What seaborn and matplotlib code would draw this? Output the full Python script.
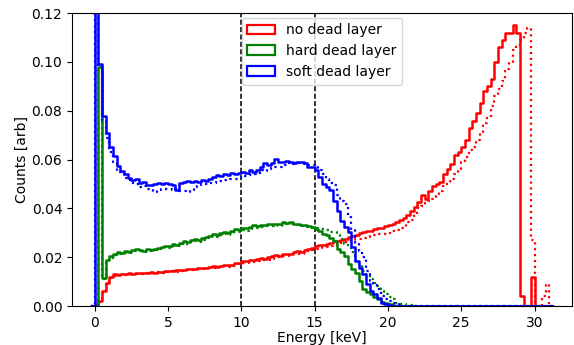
import numpy as np
import pandas as pd
import matplotlib
matplotlib.use("Agg")
import matplotlib.pyplot as plt
import seaborn as sns
from matplotlib.patches import Patch

# ---- data: histogram contents, 0.25 keV bins from 0 to 31 keV (one row = 1 keV) ----
bin_width = 0.25
energy_start = 0.0

no_dead_solid = [
    0.0005, 0.002, 0.006, 0.0095,   # 0
    0.012, 0.013, 0.0128, 0.0132,   # 1
    0.0130, 0.0134, 0.0132, 0.0136, # 2
    0.0134, 0.0137, 0.0135, 0.0139, # 3
    0.0137, 0.0141, 0.0139, 0.0142, # 4
    0.0144, 0.0142, 0.0146, 0.0148, # 5
    0.0146, 0.0150, 0.0152, 0.0150, # 6
    0.0155, 0.0157, 0.0155, 0.0160, # 7
    0.0162, 0.0160, 0.0165, 0.0167, # 8
    0.0166, 0.0170, 0.0175, 0.0178, # 9
    0.0185, 0.0183, 0.0190, 0.0188, # 10
    0.0192, 0.0196, 0.0194, 0.0200, # 11
    0.0203, 0.0208, 0.0206, 0.0212, # 12
    0.0215, 0.0213, 0.0220, 0.0224, # 13
    0.0222, 0.0230, 0.0235, 0.0238, # 14
    0.0245, 0.0248, 0.0252, 0.0255, # 15
    0.0258, 0.0265, 0.0268, 0.0272, # 16
    0.0275, 0.0282, 0.0288, 0.0292, # 17
    0.0298, 0.0302, 0.0308, 0.0306, # 18
    0.0315, 0.0320, 0.0318, 0.0326, # 19
    0.0332, 0.0338, 0.0346, 0.0352, # 20
    0.0362, 0.0372, 0.0390, 0.0405, # 21
    0.0426, 0.0453, 0.0440, 0.0470, # 22
    0.0490, 0.0500, 0.0510, 0.0540, # 23
    0.0560, 0.0580, 0.0620, 0.0630, # 24
    0.0650, 0.0680, 0.0730, 0.0760, # 25
    0.0790, 0.0830, 0.0880, 0.0900, # 26
    0.0930, 0.1000, 0.1060, 0.1090, # 27
    0.1120, 0.1120, 0.1150, 0.1120, # 28
    0.0040, 0.0, 0.0, 0.0120,       # 29
    0.0, 0.0, 0.0, 0.0,             # 30
]

no_dead_dotted = [
    0.0003, 0.0015, 0.0055, 0.009,  # 0
    0.0115, 0.0125, 0.0127, 0.0128, # 1
    0.0129, 0.0127, 0.0131, 0.0130, # 2
    0.0133, 0.0131, 0.0135, 0.0134, # 3
    0.0136, 0.0138, 0.0136, 0.0140, # 4
    0.0139, 0.0142, 0.0141, 0.0145, # 5
    0.0144, 0.0146, 0.0149, 0.0147, # 6
    0.0150, 0.0153, 0.0151, 0.0155, # 7
    0.0157, 0.0156, 0.0160, 0.0162, # 8
    0.0161, 0.0165, 0.0168, 0.0171, # 9
    0.0175, 0.0178, 0.0181, 0.0180, # 10
    0.0184, 0.0187, 0.0190, 0.0189, # 11
    0.0194, 0.0197, 0.0200, 0.0204, # 12
    0.0203, 0.0208, 0.0212, 0.0215, # 13
    0.0214, 0.0220, 0.0225, 0.0228, # 14
    0.0233, 0.0236, 0.0240, 0.0243, # 15
    0.0247, 0.0250, 0.0255, 0.0259, # 16
    0.0262, 0.0266, 0.0270, 0.0273, # 17
    0.0276, 0.0280, 0.0283, 0.0287, # 18
    0.0290, 0.0293, 0.0296, 0.0294, # 19
    0.0300, 0.0306, 0.0311, 0.0318, # 20
    0.0325, 0.0343, 0.0352, 0.0375, # 21
    0.040, 0.041, 0.042, 0.043,     # 22
    0.044, 0.045, 0.047, 0.049,     # 23
    0.051, 0.052, 0.054, 0.056,     # 24
    0.059, 0.061, 0.064, 0.065,     # 25
    0.068, 0.071, 0.075, 0.078,     # 26
    0.082, 0.086, 0.089, 0.092,     # 27
    0.097, 0.100, 0.105, 0.107,     # 28
    0.109, 0.112, 0.114, 0.027,     # 29
    0.0, 0.0, 0.004, 0.009,         # 30
]

hard_dead_solid = [
    0.0, 0.098, 0.0115, 0.0190,     # 0
    0.0206, 0.0215, 0.0220, 0.0218, # 1
    0.0225, 0.0223, 0.0229, 0.0233, # 2
    0.0231, 0.0227, 0.0232, 0.0230, # 3
    0.0233, 0.0238, 0.0242, 0.0247, # 4
    0.0245, 0.0254, 0.0250, 0.0258, # 5
    0.0268, 0.0262, 0.0272, 0.0275, # 6
    0.0271, 0.0278, 0.0282, 0.0286, # 7
    0.0295, 0.0290, 0.0298, 0.0302, # 8
    0.0299, 0.0307, 0.0316, 0.0312, # 9
    0.0320, 0.0318, 0.0323, 0.0330, # 10
    0.0326, 0.0333, 0.0330, 0.0336, # 11
    0.0334, 0.0338, 0.0336, 0.0343, # 12
    0.0341, 0.0343, 0.0338, 0.0336, # 13
    0.0333, 0.0330, 0.0326, 0.0323, # 14
    0.0316, 0.0309, 0.0295, 0.0289, # 15
    0.0280, 0.0268, 0.0234, 0.0220, # 16
    0.0206, 0.0172, 0.0150, 0.0137, # 17
    0.0103, 0.0069, 0.0058, 0.0048, # 18
    0.0035, 0.0027, 0.0018, 0.0014, # 19
    0.0007, 0.0004, 0.0002, 0.0,    # 20
    0.0, 0.0, 0.0, 0.0,             # 21
    0.0, 0.0, 0.0, 0.0,             # 22
    0.0, 0.0, 0.0, 0.0,             # 23
    0.0, 0.0, 0.0, 0.0,             # 24
    0.0, 0.0, 0.0, 0.0,             # 25
    0.0, 0.0, 0.0, 0.0,             # 26
    0.0, 0.0, 0.0, 0.0,             # 27
    0.0, 0.0, 0.0, 0.0,             # 28
    0.0, 0.0, 0.0, 0.0,             # 29
    0.0, 0.0, 0.0, 0.0,             # 30
]

hard_dead_dotted = [
    0.0, 0.097, 0.011, 0.018,       # 0
    0.0198, 0.0208, 0.0212, 0.0215, # 1
    0.0218, 0.0216, 0.0222, 0.0225, # 2
    0.0224, 0.0221, 0.0226, 0.0225, # 3
    0.0228, 0.0233, 0.0236, 0.0240, # 4
    0.0239, 0.0246, 0.0244, 0.0250, # 5
    0.0258, 0.0255, 0.0263, 0.0266, # 6
    0.0264, 0.0270, 0.0274, 0.0278, # 7
    0.0285, 0.0282, 0.0289, 0.0293, # 8
    0.0291, 0.0297, 0.0305, 0.0302, # 9
    0.0310, 0.0309, 0.0315, 0.0320, # 10
    0.0318, 0.0324, 0.0322, 0.0328, # 11
    0.0327, 0.0330, 0.0329, 0.0335, # 12
    0.0336, 0.0334, 0.0332, 0.0330, # 13
    0.0329, 0.0327, 0.0324, 0.0320, # 14
    0.0318, 0.0316, 0.0316, 0.0310, # 15
    0.0302, 0.0302, 0.0289, 0.0275, # 16
    0.0254, 0.0240, 0.0220, 0.0185, # 17
    0.0170, 0.0144, 0.0125, 0.0110, # 18
    0.0095, 0.0082, 0.0060, 0.0048, # 19
    0.0035, 0.0027, 0.0014, 0.0010, # 20
    0.0007, 0.0005, 0.0003, 0.0001, # 21
    0.0, 0.0, 0.0, 0.0,             # 22
    0.0, 0.0, 0.0, 0.0,             # 23
    0.0, 0.0, 0.0, 0.0,             # 24
    0.0, 0.0, 0.0, 0.0,             # 25
    0.0, 0.0, 0.0, 0.0,             # 26
    0.0, 0.0, 0.0, 0.0,             # 27
    0.0, 0.0, 0.0, 0.0,             # 28
    0.0, 0.0, 0.0, 0.0,             # 29
    0.0, 0.0, 0.0, 0.0,             # 30
]

soft_dead_solid = [
    0.35, 0.099, 0.078, 0.071,      # 0
    0.065, 0.0615, 0.0575, 0.0555,  # 1
    0.054, 0.0525, 0.0515, 0.052,   # 2
    0.0505, 0.0508, 0.0494, 0.0497, # 3
    0.0501, 0.0505, 0.0498, 0.0502, # 4
    0.0499, 0.0494, 0.0476, 0.0505, # 5
    0.0508, 0.0512, 0.0507, 0.0512, # 6
    0.0508, 0.0515, 0.0512, 0.0522, # 7
    0.0528, 0.0536, 0.0531, 0.0542, # 8
    0.0538, 0.0545, 0.0540, 0.0546, # 9
    0.0549, 0.0545, 0.0556, 0.0549, # 10
    0.0559, 0.0570, 0.0584, 0.0577, # 11
    0.0585, 0.0604, 0.0592, 0.0590, # 12
    0.0596, 0.0590, 0.0584, 0.0592, # 13
    0.0590, 0.0585, 0.0570, 0.0568, # 14
    0.0556, 0.0529, 0.0501, 0.0488, # 15
    0.0474, 0.0432, 0.0391, 0.0350, # 16
    0.0325, 0.0302, 0.0240, 0.0185, # 17
    0.0155, 0.0130, 0.0089, 0.0062, # 18
    0.0048, 0.0034, 0.0014, 0.0008, # 19
    0.0004, 0.0002, 0.0, 0.0,       # 20
    0.0, 0.0, 0.0, 0.0,             # 21
    0.0, 0.0, 0.0, 0.0,             # 22
    0.0, 0.0, 0.0, 0.0,             # 23
    0.0, 0.0, 0.0, 0.0,             # 24
    0.0, 0.0, 0.0, 0.0,             # 25
    0.0, 0.0, 0.0, 0.0,             # 26
    0.0, 0.0, 0.0, 0.0,             # 27
    0.0, 0.0, 0.0, 0.0,             # 28
    0.0, 0.0, 0.0, 0.0,             # 29
    0.0, 0.0, 0.0, 0.0,             # 30
]

soft_dead_dotted = [
    0.35, 0.098, 0.076, 0.069,      # 0
    0.063, 0.059, 0.0555, 0.0549,   # 1
    0.0525, 0.0515, 0.0505, 0.0498, # 2
    0.0488, 0.0490, 0.0480, 0.0476, # 3
    0.0467, 0.0475, 0.0478, 0.0481, # 4
    0.0481, 0.0475, 0.0478, 0.0472, # 5
    0.0470, 0.0467, 0.0475, 0.0488, # 6
    0.0492, 0.0501, 0.0498, 0.0505, # 7
    0.0503, 0.0508, 0.0512, 0.0515, # 8
    0.0518, 0.0522, 0.0520, 0.0526, # 9
    0.0529, 0.0533, 0.0536, 0.0540, # 10
    0.0545, 0.0556, 0.0552, 0.0560, # 11
    0.0565, 0.0570, 0.0568, 0.0575, # 12
    0.0578, 0.0584, 0.0580, 0.0586, # 13
    0.0584, 0.0582, 0.0577, 0.0578, # 14
    0.0570, 0.0556, 0.0540, 0.0522, # 15
    0.0505, 0.0494, 0.0453, 0.0430, # 16
    0.0419, 0.0364, 0.0310, 0.0254, # 17
    0.0225, 0.0199, 0.0144, 0.0103, # 18
    0.0085, 0.0069, 0.0041, 0.0030, # 19
    0.0021, 0.0012, 0.0007, 0.0002, # 20
    0.0, 0.0, 0.0, 0.0,             # 21
    0.0, 0.0, 0.0, 0.0,             # 22
    0.0, 0.0, 0.0, 0.0,             # 23
    0.0, 0.0, 0.0, 0.0,             # 24
    0.0, 0.0, 0.0, 0.0,             # 25
    0.0, 0.0, 0.0, 0.0,             # 26
    0.0, 0.0, 0.0, 0.0,             # 27
    0.0, 0.0, 0.0, 0.0,             # 28
    0.0, 0.0, 0.0, 0.0,             # 29
    0.0, 0.0, 0.0, 0.0,             # 30
]

series_labels = ["no dead layer", "hard dead layer", "soft dead layer"]
series_colors = ["red", "green", "blue"]
marker_lines = [10, 15]

# ---- figure ----
sns.set_style("ticks")
plt.rcParams.update({
    "font.family": ["DejaVu Sans"],
    "font.size": 10,
    "axes.edgecolor": "black",
    "axes.linewidth": 0.8,
    "xtick.color": "black", "ytick.color": "black",
    "xtick.major.size": 3.5, "ytick.major.size": 3.5,
    "xtick.major.width": 0.8, "ytick.major.width": 0.8,
    "text.color": "black", "axes.labelcolor": "black",
    "xtick.direction": "out", "ytick.direction": "out",
})

fig = plt.figure(figsize=(5.74, 3.45), dpi=100)
ax = fig.add_axes([0.1254, 0.113, 0.871, 0.849])

n_bins = len(no_dead_solid)
# one empty bin on either side so the outline closes down to zero
edges = [float(e) for e in energy_start + bin_width * np.arange(-1, n_bins + 2)]
centers = [0.5 * (a + b) for a, b in zip(edges[:-1], edges[1:])]

def padded(v):
    return [0.0] + list(v) + [0.0]

pairs = [
    (no_dead_solid, no_dead_dotted),
    (hard_dead_solid, hard_dead_dotted),
    (soft_dead_solid, soft_dead_dotted),
]
for (solid, dotted), color in zip(pairs, series_colors):
    for vals, ls, lw in ((dotted, ":", 1.6), (solid, "-", 1.8)):
        df = pd.DataFrame({"energy": centers, "counts": padded(vals)})
        sns.histplot(data=df, x="energy", weights="counts", bins=edges,
                     element="step", fill=False, color=color, linestyle=ls,
                     linewidth=lw, ax=ax)

for xv in marker_lines:
    ax.axvline(xv, color="#222222", linestyle=(0, (2.8, 1.3)), linewidth=1.3, zorder=1)

ax.set_xlim(-1.55, 32.55)
ax.set_ylim(0, 0.12)
ax.set_xticks([0, 5, 10, 15, 20, 25, 30])
ax.set_yticks([0.0, 0.02, 0.04, 0.06, 0.08, 0.10, 0.12])
ax.yaxis.set_major_formatter(matplotlib.ticker.FormatStrFormatter("%.2f"))
ax.set_xlabel("Energy [keV]", labelpad=1.0)
ax.set_ylabel("Counts [arb]", labelpad=2)

handles = [Patch(facecolor="none", edgecolor=c, linewidth=1.6) for c in series_colors]
ax.legend(handles, series_labels, loc="upper center", bbox_to_anchor=(0.5, 1.008),
          frameon=True)

fig.savefig("out.png", dpi=100)
